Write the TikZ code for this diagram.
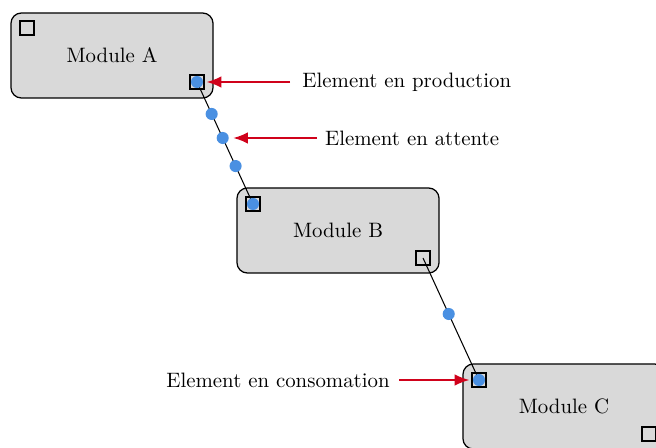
\documentclass[tikz,border=0pt]{standalone}
\usetikzlibrary{calc,arrows.meta}
\definecolor{boxgray}{HTML}{D9D9D9}
\definecolor{tokblue}{HTML}{4A90E2}
\definecolor{arrred}{HTML}{D0021B}
\begin{document}
\begin{tikzpicture}[x=0.48pt,y=-0.48pt,
  module/.style={draw=black, fill=boxgray, line width=0.6pt, rounded corners=5pt,
    minimum width=97pt, minimum height=40.8pt, inner sep=0pt},
  port/.style={draw=black, line width=0.9pt, minimum size=6.4pt, inner sep=0pt},
  token/.style={circle, fill=tokblue, minimum size=5.8pt, inner sep=0pt},
  link/.style={draw=black, line width=0.5pt},
  redarrow/.style={draw=arrred, line width=0.75pt, -{Latex[length=7pt,width=5.5pt]}},
  lbl/.style={inner sep=0pt, font=\normalsize}]
\clip (0,0) rectangle (656,448);
\node[module] (A) at (112,55.5) {Module A};
\node[module] (B) at (338,230.5) {Module B};
\node[module] (C) at (564,406.5) {Module C};
\node[port] (A1) at (27,28) {};
\node[port] (A2) at (197,82) {};
\node[port] (B1) at (253,204) {};
\node[port] (B2) at (423,258) {};
\node[port] (C1) at (479,380) {};
\node[port] (C2) at (649,434) {};
\draw[link] (A2.center) -- (B1.center);
\draw[link] (B2.center) -- (C1.center);
\node[token] (tA) at (A2) {};
\node[token] (tB) at (B1) {};
\node[token] (tC) at (C1) {};
\node[token] (d1) at ($(A2)!0.262!(B1)$) {};
\node[token] (d2) at ($(A2)!0.459!(B1)$) {};
\node[token] (d3) at ($(A2)!0.689!(B1)$) {};
\node[token] (d4) at ($(B2)!0.459!(C1)$) {};
\coordinate (p1) at ($(A2)+(93,0)$);
\coordinate (p2) at ($(d2)+(94,0)$);
\coordinate (p3) at ($(C1)+(-80,0)$);
\node[lbl, anchor=west] (L1) at ($(p1)+(12,0)$) {Element en production};
\node[lbl, anchor=west] (L2) at ($(p2)+(8,0)$) {Element en attente};
\node[lbl, anchor=east] (L3) at ($(p3)+(-9,0)$) {Element en consomation};
\draw[redarrow, shorten >=1pt] (p1) -- (A2);
\draw[redarrow, shorten >=2pt] (p2) -- (d2);
\draw[redarrow, shorten >=1pt] (p3) -- (C1);
\end{tikzpicture}
\end{document}
